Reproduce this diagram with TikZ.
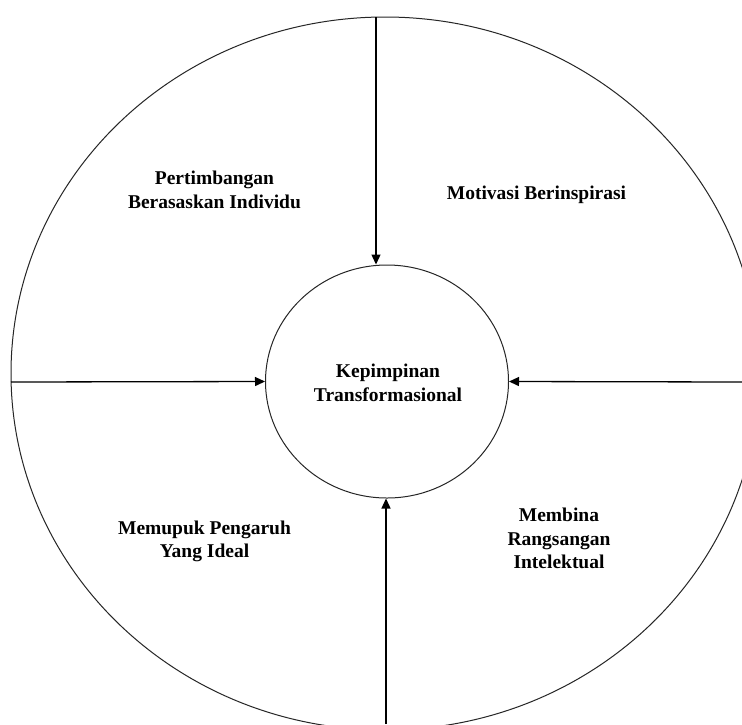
\documentclass[tikz,border=0pt]{standalone}
\usepackage{fontspec}
\setmainfont{Liberation Serif}
\usetikzlibrary{arrows.meta,shapes.geometric}
\tikzset{
  ring/.style={draw=black!85, line width=1pt},
  arr/.style={draw=black, line width=1.3pt, -{Triangle[length=10pt,width=9pt]}},
  lbl/.style={font=\bfseries\fontsize{19.5}{23.5}\selectfont, align=center, inner sep=0pt, text=black}
}
\begin{document}
\begin{tikzpicture}[x=1pt,y=-1pt]
\useasboundingbox (0,0) rectangle (742,724);
\clip (0,0) rectangle (742,724);
\fill[white] (0,0) rectangle (742,724);
% outer ring
\draw[ring] (385,373.5) ellipse [x radius=374, y radius=356.5];
% centre
\node[ring, ellipse, minimum width=243pt, minimum height=233pt, inner sep=0pt] (core) at (387,381.5) {};
\node[lbl] (coretext) at (388,382.7) {Kepimpinan\\Transformasional};
% connector ends
\coordinate (t) at (376,17);
\coordinate (l) at (11,382);
\coordinate (r) at (742,382);
\coordinate (b) at (386,724);
\draw[arr] (t) -- (t |- core.north);
\draw[arr] (l) -- (core.west);
\draw[arr] (r) -- (core.east);
\draw[arr] (b) -- (b |- core.south);
% labels
\node[lbl] (pi) at (214.5,190) {Pertimbangan\\Berasaskan Individu};
\node[lbl, anchor=base] (mb) at (536.5,199.3) {Motivasi Berinspirasi};
\node[lbl] (mp) at (204.5,541.6) {Memupuk Pengaruh\\Yang Ideal};
\node[lbl] (mr) at (559,538.8) {Membina\\Rangsangan\\Intelektual};
\end{tikzpicture}
\end{document}
